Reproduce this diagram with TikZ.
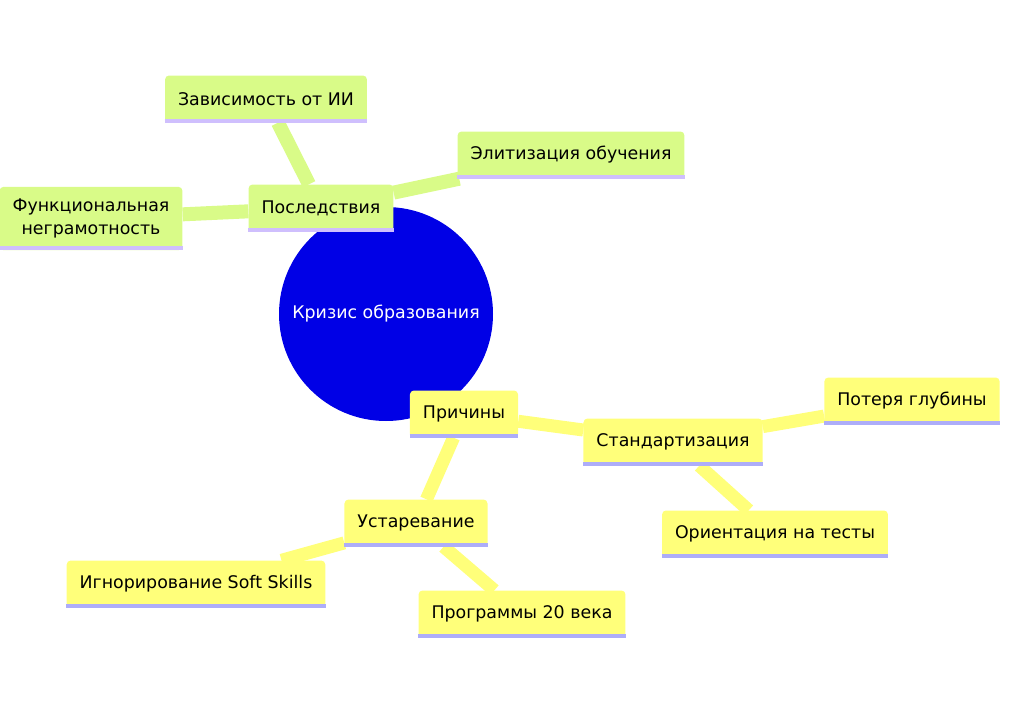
\documentclass[tikz,border=0pt]{standalone}
\usepackage{fontspec}
\setmainfont{DejaVu Sans}
\usetikzlibrary{backgrounds}

\definecolor{rootblue}{HTML}{0000E6}
\definecolor{greenfill}{HTML}{D9FB88}
\definecolor{greenbar}{HTML}{CFBFFD}
\definecolor{yellowfill}{HTML}{FFFF7A}
\definecolor{yellowbar}{HTML}{ADADF9}

\tikzset{
  topic/.style={rounded corners=4pt, inner xsep=13pt, minimum height=47pt,
    font=\fontsize{17.4}{23}\selectfont, align=center, text=black},
  conseq/.style={topic, fill=greenfill,
    append after command={([yshift=2pt]\tikzlastnode.south west)
      edge[greenbar, line width=4pt] ([yshift=2pt]\tikzlastnode.south east)}},
  cause/.style={topic, fill=yellowfill,
    append after command={([yshift=2pt]\tikzlastnode.south west)
      edge[yellowbar, line width=4pt] ([yshift=2pt]\tikzlastnode.south east)}},
  greenlink/.style={greenfill, line width=14pt},
  yellowlink/.style={yellowfill, line width=13pt},
}

\begin{document}
\begin{tikzpicture}[x=1pt, y=-1pt]
  \useasboundingbox (0,0) rectangle (1018,726);

  % root
  \node[circle, fill=rootblue, minimum size=214pt, text=white, inner sep=0pt,
        font=\fontsize{17.4}{23}\selectfont] (root) at (386,314) {Кризис образования};

  % consequences
  \node[conseq] (effects) at (321,208) {Последствия};
  \node[conseq] (ai) at (266,99) {Зависимость от ИИ};
  \node[conseq] (elite) at (571,155) {Элитизация обучения};
  \node[conseq, inner ysep=12pt] (illit) at (91,218.5) {Функциональная\\неграмотность};

  % causes
  \node[cause] (causes) at (464,414) {Причины};
  \node[cause] (standard) at (673,442) {Стандартизация};
  \node[cause] (depth) at (912,401) {Потеря глубины};
  \node[cause] (tests) at (775,534) {Ориентация на тесты};
  \node[cause] (aging) at (416,523) {Устаревание};
  \node[cause] (soft) at (196,584) {Игнорирование Soft Skills};
  \node[cause] (prog) at (522,614) {Программы 20 века};

  \begin{scope}[on background layer]
    \draw[greenlink] (root) -- (effects);
    \draw[greenlink] (effects) -- (ai);
    \draw[greenlink] (effects) -- (elite);
    \draw[greenlink] (effects) -- (illit);
    \draw[yellowlink] (root) -- (causes);
    \draw[yellowlink] (causes) -- (standard);
    \draw[yellowlink] (standard) -- (depth);
    \draw[yellowlink] (standard) -- (tests);
    \draw[yellowlink] (causes) -- (aging);
    \draw[yellowlink] (aging) -- (soft);
    \draw[yellowlink] (aging) -- (prog);
  \end{scope}
\end{tikzpicture}
\end{document}
